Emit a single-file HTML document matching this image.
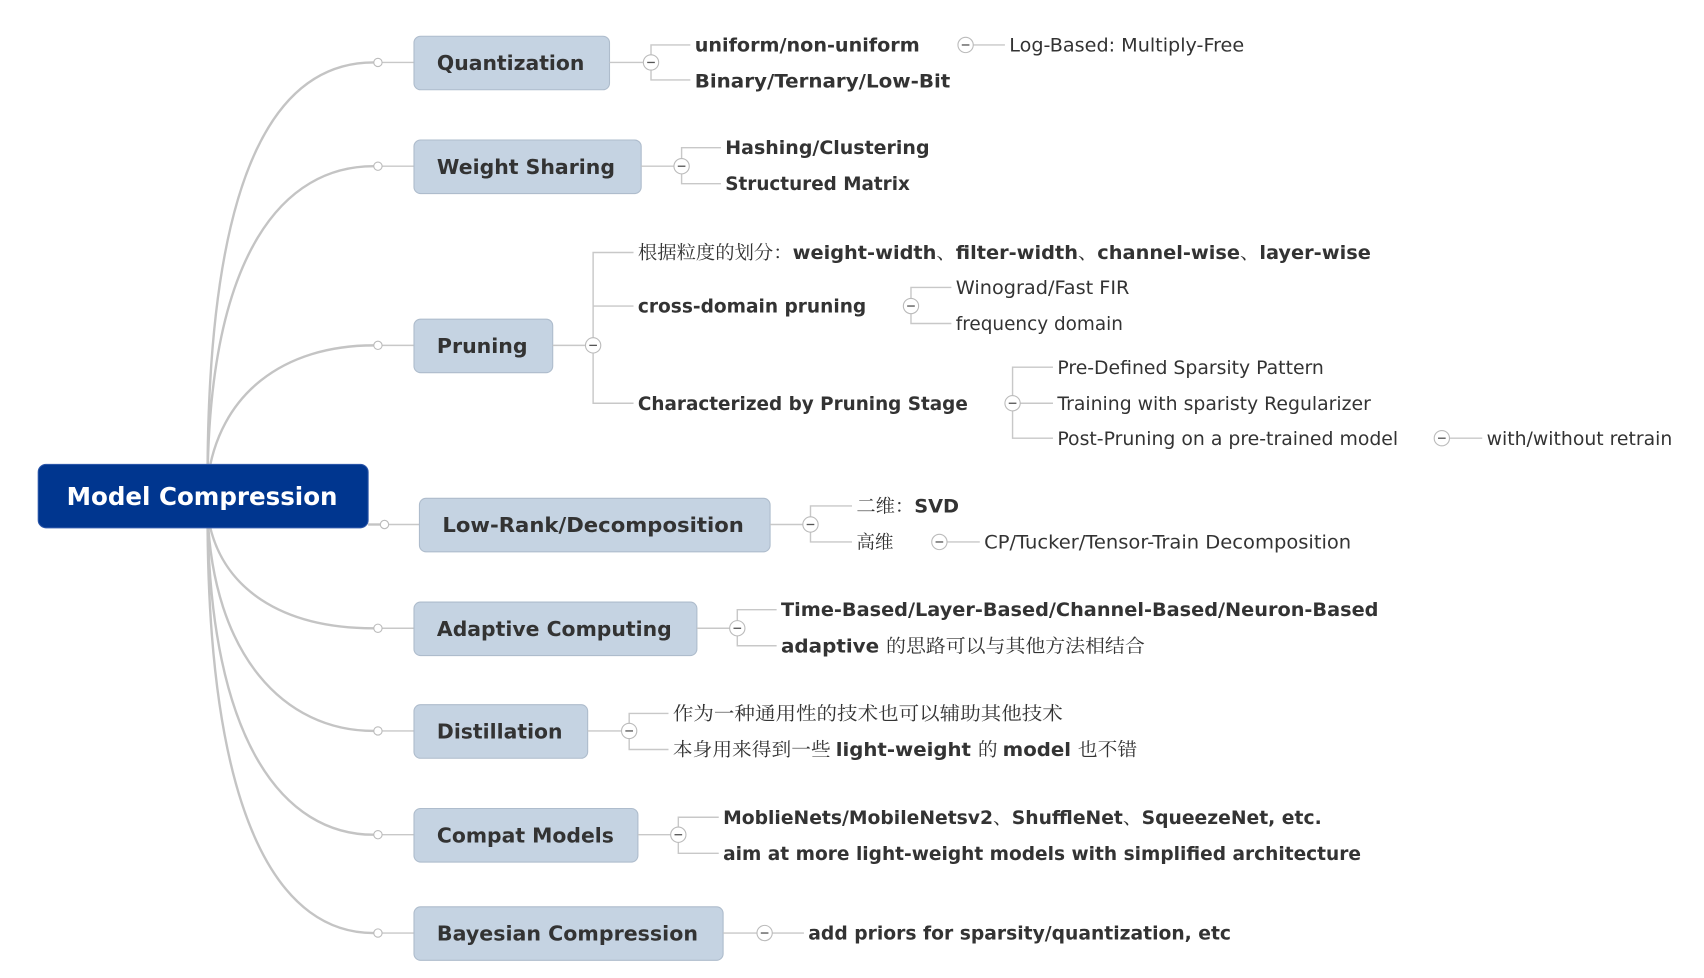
<!DOCTYPE html>
<html><head><meta charset="utf-8"><style>
html,body{margin:0;padding:0;background:#fff;}
svg{display:block;}
text{font-family:"DejaVu Sans","Liberation Sans","Noto Sans CJK SC",sans-serif;fill:#333;}
.b{font-weight:bold;font-size:17px;}
.n{font-size:17px;}
.bx{font-weight:bold;font-size:19px;fill:#333;}
.cj{font-family:"Noto Serif CJK SC","WenQuanYi Zen Hei",serif;font-weight:normal;}
.ln{stroke:#c8c8c8;stroke-width:1.3;fill:none;}
.mc{stroke:#c4c4c4;stroke-width:2.2;fill:none;}
.box{fill:#c5d3e2;stroke:#aebccc;stroke-width:1;}
</style></head><body>
<svg width="1704" height="978" viewBox="0 0 1560 895" xmlns="http://www.w3.org/2000/svg">
<defs>
<g id="col"><circle r="7" fill="#fff" stroke="#bbb" stroke-width="1"/><line x1="-3.5" y1="0" x2="3.5" y2="0" stroke="#555" stroke-width="1.2"/></g>
<g id="dot"><circle r="3.8" fill="#fff" stroke="#bbb" stroke-width="1"/></g>
</defs>
<!-- main curves -->
<path class="mc" d="M190,440 C190,140 260,57 342,57"/>
<path class="mc" d="M190,440 C192,230 260,152 342,152"/>
<path class="mc" d="M190,440 C200,360 260,316 342,316"/>
<path class="mc" d="M337,480 L348,480"/>
<path class="mc" d="M190,470 C200,540 260,575 342,575"/>
<path class="mc" d="M190,470 C195,600 260,669 342,669"/>
<path class="mc" d="M190,470 C192,680 260,764 342,764"/>
<path class="mc" d="M190,470 C190,760 260,854 342,854"/>
<!-- short lines to boxes -->
<g class="ln">
<line x1="350" y1="57" x2="379" y2="57"/><line x1="350" y1="152" x2="379" y2="152"/>
<line x1="350" y1="316" x2="379" y2="316"/><line x1="356" y1="480" x2="384" y2="480"/>
<line x1="350" y1="575" x2="379" y2="575"/><line x1="350" y1="669" x2="379" y2="669"/>
<line x1="350" y1="764" x2="379" y2="764"/><line x1="350" y1="854" x2="379" y2="854"/>
</g>
<use href="#dot" x="346" y="57"/><use href="#dot" x="346" y="152"/><use href="#dot" x="346" y="316"/>
<use href="#dot" x="352" y="480"/><use href="#dot" x="346" y="575"/><use href="#dot" x="346" y="669"/>
<use href="#dot" x="346" y="764"/><use href="#dot" x="346" y="854"/>
<!-- root -->
<rect x="35" y="425" width="302" height="58" rx="7" fill="#00368f" stroke="#2a55a8"/>
<text x="61" y="462" font-size="23" font-weight="bold" style="fill:#fff" textLength="248" lengthAdjust="spacingAndGlyphs">Model Compression</text>
<!-- boxes -->
<rect class="box" x="379" y="33" width="179" height="49" rx="6"/><text class="bx" x="400" y="64" textLength="135" lengthAdjust="spacingAndGlyphs">Quantization</text>
<rect class="box" x="379" y="128" width="208" height="49" rx="6"/><text class="bx" x="400" y="159" textLength="163" lengthAdjust="spacingAndGlyphs">Weight Sharing</text>
<rect class="box" x="379" y="292" width="127" height="49" rx="6"/><text class="bx" x="400" y="323" textLength="83" lengthAdjust="spacingAndGlyphs">Pruning</text>
<rect class="box" x="384" y="456" width="321" height="49" rx="6"/><text class="bx" x="405" y="487" textLength="276" lengthAdjust="spacingAndGlyphs">Low-Rank/Decomposition</text>
<rect class="box" x="379" y="551" width="259" height="49" rx="6"/><text class="bx" x="400" y="582" textLength="215" lengthAdjust="spacingAndGlyphs">Adaptive Computing</text>
<rect class="box" x="379" y="645" width="159" height="49" rx="6"/><text class="bx" x="400" y="676" textLength="115" lengthAdjust="spacingAndGlyphs">Distillation</text>
<rect class="box" x="379" y="740" width="205" height="49" rx="6"/><text class="bx" x="400" y="771" textLength="162" lengthAdjust="spacingAndGlyphs">Compat Models</text>
<rect class="box" x="379" y="830" width="283" height="49" rx="6"/><text class="bx" x="400" y="861" textLength="239" lengthAdjust="spacingAndGlyphs">Bayesian Compression</text>
<!-- connectors -->
<g class="ln">
<line x1="558" y1="57" x2="589" y2="57"/><path d="M632,41 H596 V73 H632"/>
<line x1="891" y1="41" x2="920" y2="41"/>
<line x1="587" y1="152" x2="617" y2="152"/><path d="M660,135 H624 V168 H660"/>
<line x1="506" y1="316" x2="536" y2="316"/><path d="M580,231 H543 V369 H580 M543,280 H580"/>
<path d="M871,263 H834 V296 H871"/>
<path d="M964,336 H927 V401 H964 M927,369 H964"/>
<line x1="1327" y1="401" x2="1357" y2="401"/>
<line x1="705" y1="480" x2="735" y2="480"/><path d="M780,463 H742 V496 H780"/>
<line x1="867" y1="496" x2="897" y2="496"/>
<line x1="638" y1="575" x2="668" y2="575"/><path d="M711,558 H675 V591 H711"/>
<line x1="538" y1="669" x2="569" y2="669"/><path d="M612,653 H576 V686 H612"/>
<line x1="584" y1="764" x2="614" y2="764"/><path d="M658,748 H621 V781 H658"/>
<line x1="662" y1="854" x2="693" y2="854"/><line x1="707" y1="854" x2="736" y2="854"/>
</g>
<use href="#col" x="596" y="57"/><use href="#col" x="884" y="41"/><use href="#col" x="624" y="152"/>
<use href="#col" x="543" y="316"/><use href="#col" x="834" y="280"/><use href="#col" x="927" y="369"/>
<use href="#col" x="1320" y="401"/><use href="#col" x="742" y="480"/><use href="#col" x="860" y="496"/>
<use href="#col" x="675" y="575"/><use href="#col" x="576" y="669"/><use href="#col" x="621" y="764"/>
<use href="#col" x="700" y="854"/>
<!-- texts -->
<text class="b" x="636" y="47" textLength="206" lengthAdjust="spacingAndGlyphs">uniform/non-uniform</text>
<text class="b" x="636" y="80" textLength="234" lengthAdjust="spacingAndGlyphs">Binary/Ternary/Low-Bit</text>
<text class="n" x="924" y="47" textLength="215" lengthAdjust="spacingAndGlyphs">Log-Based: Multiply-Free</text>
<text class="b" x="664" y="141" textLength="187" lengthAdjust="spacingAndGlyphs">Hashing/Clustering</text>
<text class="b" x="664" y="174" textLength="169" lengthAdjust="spacingAndGlyphs">Structured Matrix</text>
<text class="b" x="584" y="237" textLength="671" lengthAdjust="spacingAndGlyphs"><tspan class="cj">根据粒度的划分：</tspan>weight-width<tspan class="cj">、</tspan>filter-width<tspan class="cj">、</tspan>channel-wise<tspan class="cj">、</tspan>layer-wise</text>
<text class="b" x="584" y="286" textLength="209" lengthAdjust="spacingAndGlyphs">cross-domain pruning</text>
<text class="b" x="584" y="375" textLength="302" lengthAdjust="spacingAndGlyphs">Characterized by Pruning Stage</text>
<text class="n" x="875" y="269" textLength="159" lengthAdjust="spacingAndGlyphs">Winograd/Fast FIR</text>
<text class="n" x="875" y="302" textLength="153" lengthAdjust="spacingAndGlyphs">frequency domain</text>
<text class="n" x="968" y="342" textLength="244" lengthAdjust="spacingAndGlyphs">Pre-Defined Sparsity Pattern</text>
<text class="n" x="968" y="375" textLength="287" lengthAdjust="spacingAndGlyphs">Training with sparisty Regularizer</text>
<text class="n" x="968" y="407" textLength="312" lengthAdjust="spacingAndGlyphs">Post-Pruning on a pre-trained model</text>
<text class="n" x="1361" y="407" textLength="170" lengthAdjust="spacingAndGlyphs">with/without retrain</text>
<text class="b" x="784" y="469" textLength="94" lengthAdjust="spacingAndGlyphs"><tspan class="cj">二维：</tspan>SVD</text>
<text class="b cj" x="784" y="502">高维</text>
<text class="n" x="901" y="502" textLength="336" lengthAdjust="spacingAndGlyphs">CP/Tucker/Tensor-Train Decomposition</text>
<text class="b" x="715" y="564" textLength="547" lengthAdjust="spacingAndGlyphs">Time-Based/Layer-Based/Channel-Based/Neuron-Based</text>
<text class="b" x="715" y="597" textLength="333" lengthAdjust="spacingAndGlyphs">adaptive <tspan class="cj">的思路可以与其他方法相结合</tspan></text>
<text class="b cj" x="616" y="659" textLength="357" lengthAdjust="spacingAndGlyphs">作为一种通用性的技术也可以辅助其他技术</text>
<text class="b" x="616" y="692" textLength="425" lengthAdjust="spacingAndGlyphs"><tspan class="cj">本身用来得到一些 </tspan>light-weight <tspan class="cj">的 </tspan>model <tspan class="cj">也不错</tspan></text>
<text class="b" x="662" y="754" textLength="548" lengthAdjust="spacingAndGlyphs">MoblieNets/MobileNetsv2<tspan class="cj">、</tspan>ShuffleNet<tspan class="cj">、</tspan>SqueezeNet, etc.</text>
<text class="b" x="662" y="787" textLength="584" lengthAdjust="spacingAndGlyphs">aim at more light-weight models with simplified architecture</text>
<text class="b" x="740" y="860" textLength="387" lengthAdjust="spacingAndGlyphs">add priors for sparsity/quantization, etc</text>
</svg>
</body></html>
